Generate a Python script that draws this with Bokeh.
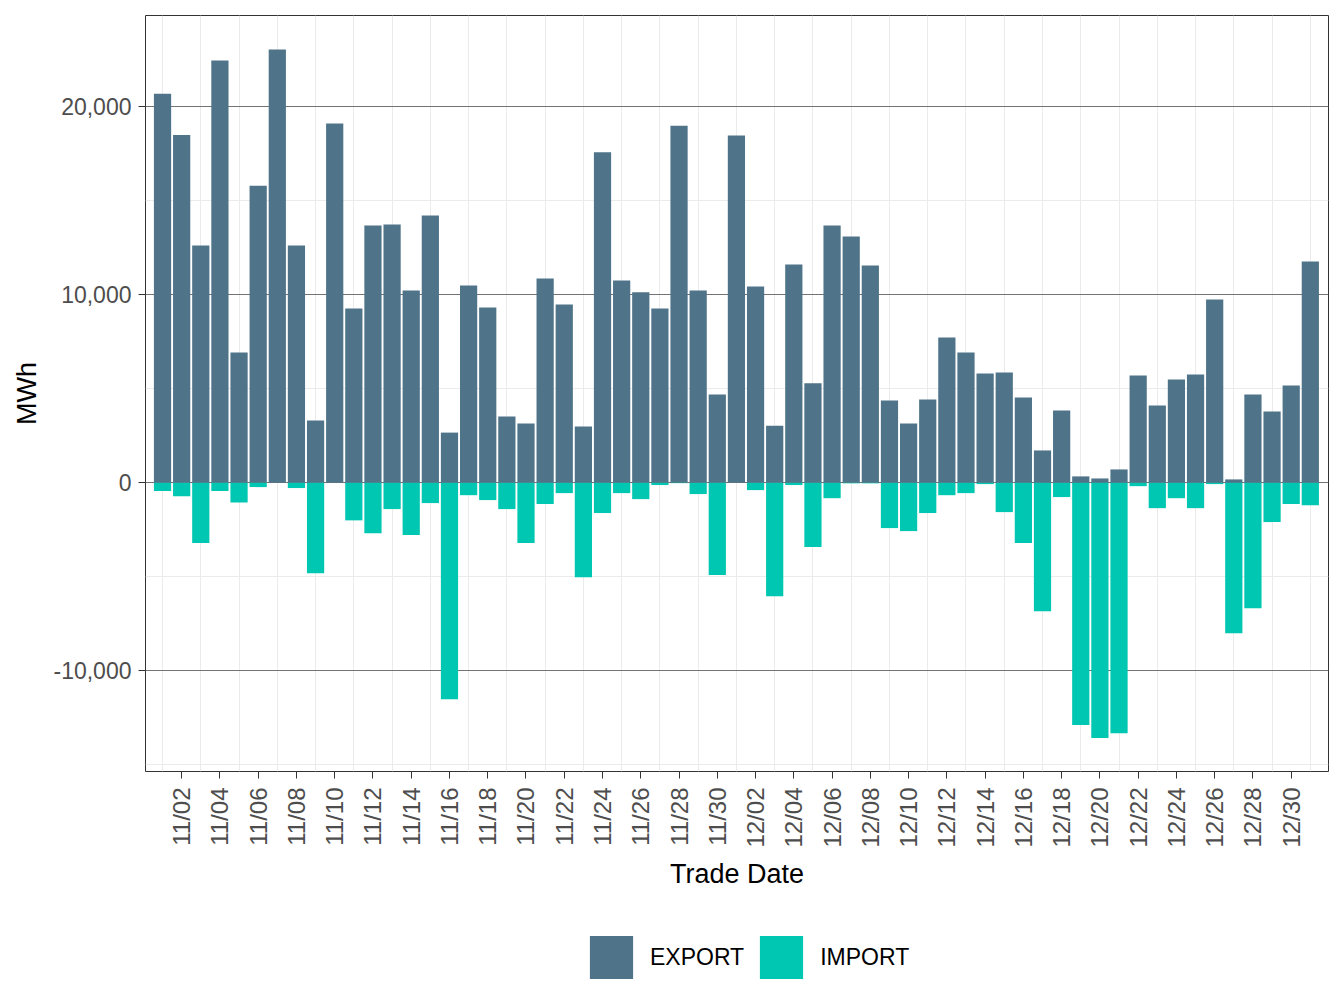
import math
from bokeh.plotting import figure
from bokeh.layouts import column
from bokeh.models import (Range1d, FixedTicker, NumeralTickFormatter, Legend,
                          LegendItem, ColumnDataSource)
from bokeh.embed import file_html
from bokeh.resources import INLINE

# ---- data -------------------------------------------------------------
dates = [f"11/{d:02d}" for d in range(1, 31)] + [f"12/{d:02d}" for d in range(1, 32)]

export_mwh = [20700, 18500, 12620, 22460, 6930, 15800, 23050, 12620, 3310, 19110,
              9270, 13690, 13740, 10230, 14220, 2670, 10500, 9330, 3520, 3150,
              10870, 9490, 2990, 17580, 10760, 10130, 9270, 19000, 10230, 4700,
              18480, 10440, 3040, 11610, 5290, 13690, 13100, 11560, 4380, 3150,
              4430, 7730, 6930, 5820, 5870, 4540, 1720, 3840, 340, 230,
              710, 5710, 4110, 5500, 5760, 9750, 180, 4700, 3790, 5170,
              11770]

import_mwh = [440, 710, 3210, 440, 1050, 230, 0, 280, 4810, 0,
              2000, 2680, 1400, 2780, 1080, 11510, 660, 920, 1400, 3210,
              1130, 550, 5020, 1610, 550, 870, 120, 20, 600, 4910,
              0, 390, 6030, 120, 3420, 820, 30, 30, 2410, 2570,
              1610, 660, 550, 70, 1560, 3210, 6830, 760, 12890, 13580,
              13320, 180, 1350, 820, 1350, 70, 8000, 6670, 2090, 1130,
              1190]

series_names = ["EXPORT", "IMPORT"]
y_ticks = [-10000, 0, 10000, 20000]
y_minor_ticks = [-15000, -5000, 5000, 15000]

EXPORT_COLOR = "#4F7489"
IMPORT_COLOR = "#00C7B1"
FONT = "Liberation Sans"

idx = list(range(len(dates)))
src = ColumnDataSource(dict(
    x=idx,
    date=dates,
    exp=export_mwh,
    imp=[-v for v in import_mwh],
))

# ---- main chart -------------------------------------------------------
p = figure(width=1344, height=901, output_backend="svg", toolbar_location=None,
           x_range=Range1d(-0.89, 60.95), y_range=Range1d(-15360, 24860),
           min_border_left=145, min_border_right=16, min_border_top=15,
           min_border_bottom=130)

p.background_fill_color = "white"
p.border_fill_color = "white"
p.outline_line_color = "#333333"
p.outline_line_width = 1

r_exp = p.vbar(x="x", top="exp", bottom=0, width=0.9, source=src,
               fill_color=EXPORT_COLOR, line_color=None)
r_imp = p.vbar(x="x", top="imp", bottom=0, width=0.9, source=src,
               fill_color=IMPORT_COLOR, line_color=None)

p.xaxis.ticker = FixedTicker(ticks=idx[1::2])
p.xaxis.major_label_overrides = {i: dates[i] for i in idx[1::2]}
p.xaxis.major_label_orientation = math.pi / 2

p.yaxis.ticker = FixedTicker(ticks=y_ticks, minor_ticks=y_minor_ticks)
p.yaxis.formatter = NumeralTickFormatter(format="0,0")

for ax in (p.xaxis, p.yaxis):
    ax.axis_line_color = None
    ax.major_tick_out = 7
    ax.major_tick_in = 0
    ax.major_tick_line_color = "#333333"
    ax.minor_tick_line_color = None
    ax.major_label_text_font = FONT
    ax.major_label_text_font_size = "23px"
    ax.major_label_text_color = "#4D4D4D"
    ax.axis_label_text_font = FONT
    ax.axis_label_text_font_size = "27px"
    ax.axis_label_text_font_style = "normal"
    ax.axis_label_text_color = "black"

p.xaxis.major_label_text_font_size = "24px"
p.xaxis.axis_label = "Trade Date"
p.yaxis.axis_label = "MWh"
p.xaxis.major_label_standoff = 9
p.yaxis.major_label_standoff = 7
p.xaxis.axis_label_standoff = 8
p.yaxis.axis_label_standoff = 8

p.xgrid.ticker = FixedTicker(ticks=idx[0::2])
p.xgrid.grid_line_color = "#EBEBEB"
p.xgrid.grid_line_width = 1
p.ygrid.grid_line_color = "#737373"
p.ygrid.grid_line_width = 1
p.ygrid.minor_grid_line_color = "#EBEBEB"
p.ygrid.minor_grid_line_width = 1

# ---- legend strip (below the chart) -----------------------------------
# same bars, but the strip's y range lies above all the data, so only the
# legend keys show
lg = figure(width=1344, height=99, output_backend="svg", toolbar_location=None,
            x_range=Range1d(-0.89, 60.95), y_range=Range1d(30000, 31000),
            x_axis_type=None, y_axis_type=None,
            min_border_left=0, min_border_right=0, min_border_top=0,
            min_border_bottom=0)
lg.outline_line_color = None
lg.grid.visible = False
lg.background_fill_color = "white"
lg.border_fill_color = "white"

k_exp = lg.vbar(x="x", top="exp", bottom=0, width=0.9, source=src,
                fill_color=EXPORT_COLOR, line_color=None)
k_imp = lg.vbar(x="x", top="imp", bottom=0, width=0.9, source=src,
                fill_color=IMPORT_COLOR, line_color=None)

legend = Legend(items=[LegendItem(label=series_names[0], renderers=[k_exp]),
                       LegendItem(label=series_names[1], renderers=[k_imp])],
                orientation="horizontal", location=(439, 16),
                glyph_width=54, glyph_height=54, label_standoff=12, spacing=10,
                padding=0, margin=0, border_line_color=None,
                background_fill_alpha=0,
                label_text_font=FONT, label_text_font_size="23px",
                label_text_color="black")
lg.add_layout(legend)

layout = column(p, lg, spacing=0)
open("out.html", "w").write(file_html(layout, INLINE))
